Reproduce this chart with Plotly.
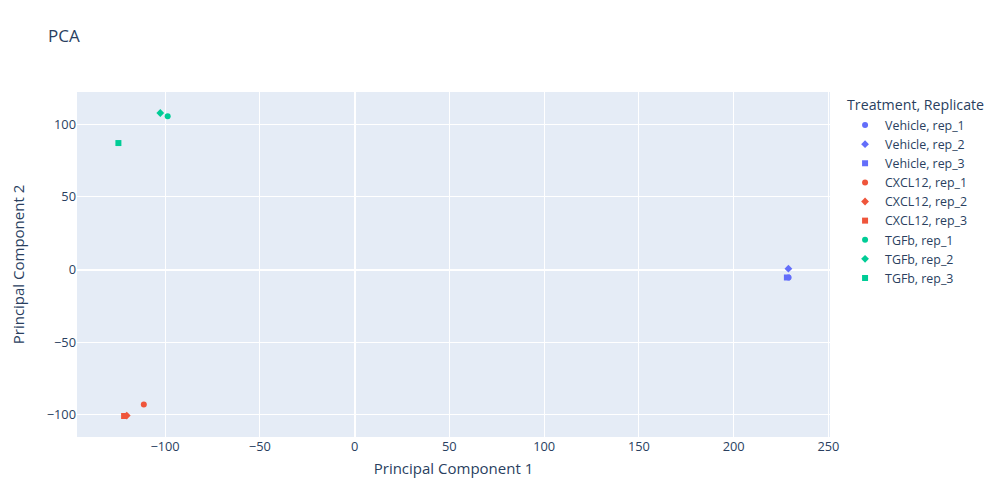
import plotly.graph_objects as go

treatments = ["Vehicle", "Vehicle", "Vehicle", "CXCL12", "CXCL12", "CXCL12", "TGFb", "TGFb", "TGFb"]
replicates = ["rep_1", "rep_2", "rep_3", "rep_1", "rep_2", "rep_3", "rep_1", "rep_2", "rep_3"]
pc1 = [229.0, 228.9, 228.1, -111.2, -120.2, -121.6, -98.6, -102.5, -124.6]
pc2 = [-5.5, 0.6, -5.5, -92.9, -100.6, -100.9, 105.5, 107.8, 87.1]

colors = {"Vehicle": "#636efa", "CXCL12": "#EF553B", "TGFb": "#00cc96"}
symbols = {"rep_1": "circle", "rep_2": "diamond", "rep_3": "square"}

fig = go.Figure()
for t, r, x, y in zip(treatments, replicates, pc1, pc2):
    fig.add_trace(go.Scatter(
        x=[x], y=[y], mode="markers", name=f"{t}, {r}",
        marker=dict(color=colors[t], symbol=symbols[r], size=6),
        legendgroup=f"{t}, {r}",
    ))

fig.update_layout(
    template="plotly",
    width=982, height=470,
    font=dict(size=12.8),
    margin=dict(l=69, r=160, t=84, b=41, autoexpand=False),
    title=dict(text="PCA", x=0.0407, y=0.940, yanchor="middle", xanchor="left", font=dict(size=17)),
    legend=dict(title=dict(text="Treatment, Replicate", font=dict(size=14.2)), tracegroupgap=0,
                font=dict(size=12.4)),
    xaxis=dict(title=dict(text="Principal Component 1", font=dict(size=15))),
    yaxis=dict(title=dict(text="Principal Component 2", font=dict(size=15), standoff=33)),
)
fig.write_html("out.html")
